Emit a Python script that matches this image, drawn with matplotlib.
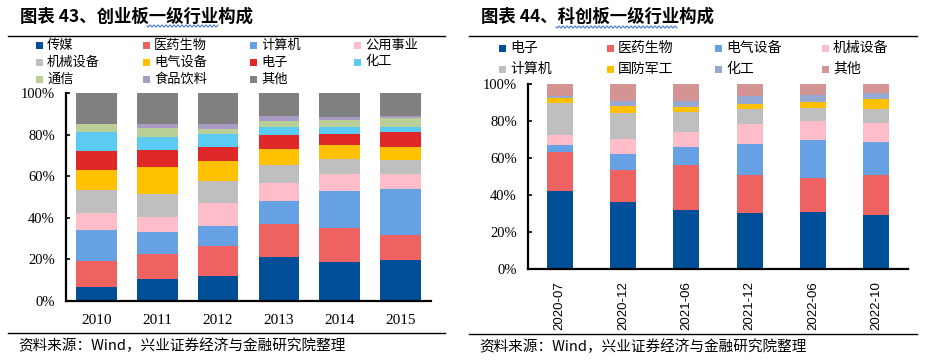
import numpy as np
import matplotlib
matplotlib.use("Agg")
import matplotlib.pyplot as plt
from matplotlib.patches import Rectangle
from matplotlib.lines import Line2D

# ---------------- data ----------------
left_years = ["2010", "2011", "2012", "2013", "2014", "2015"]
left_names = ["传媒", "医药生物", "计算机", "公用事业", "机械设备", "电气设备",
              "电子", "化工", "通信", "食品饮料", "其他"]
chuanmei   = [6.7, 10.6, 12.0, 21.2, 18.8, 19.7]
yiyao_l    = [12.5, 12.2, 14.6, 15.8, 16.5, 12.0]
jisuanji_l = [14.9, 10.4, 9.5, 11.1, 17.6, 22.1]
gongyong   = [8.2, 7.2, 11.0, 8.6, 8.2, 7.3]
jixie_l    = [11.2, 11.2, 10.6, 8.7, 7.2, 6.7]
dianqi_l   = [9.5, 12.8, 9.6, 7.7, 6.7, 6.2]
dianzi_l   = [9.1, 8.2, 6.7, 6.9, 5.3, 7.3]
huagong_l  = [9.2, 6.2, 6.4, 3.7, 3.4, 2.4]
tongxin    = [4.0, 4.4, 2.1, 2.8, 3.3, 4.3]
shipin     = [0.0, 2.1, 2.8, 2.4, 1.5, 0.9]
qita_l     = [14.7, 14.7, 14.7, 11.1, 11.5, 11.1]
left_series = [chuanmei, yiyao_l, jisuanji_l, gongyong, jixie_l, dianqi_l,
               dianzi_l, huagong_l, tongxin, shipin, qita_l]
left_colors = ["#004F98", "#EF6262", "#66A2E3", "#FFBDC9", "#BFBFBF", "#FFC000",
               "#E02828", "#5BCBF4", "#B9CF97", "#A89CC6", "#808080"]

right_dates = ["2020-07", "2020-12", "2021-06", "2021-12", "2022-06", "2022-10"]
right_names = ["电子", "医药生物", "电气设备", "机械设备", "计算机", "国防军工", "化工", "其他"]
dianzi_r   = [42.1, 36.1, 31.8, 30.1, 30.7, 29.1]
yiyao_r    = [21.3, 17.5, 24.3, 20.6, 18.6, 21.6]
dianqi_r   = [3.6, 8.5, 9.8, 16.8, 20.4, 17.9]
jixie_r    = [5.4, 8.1, 8.1, 10.8, 10.3, 10.3]
jisuanji_r = [17.3, 14.1, 11.0, 8.2, 7.2, 7.6]
guofang    = [2.7, 4.0, 2.5, 2.9, 3.2, 5.4]
huagong_r  = [1.3, 2.5, 3.3, 4.3, 3.8, 3.2]
qita_r     = [6.3, 9.2, 9.2, 6.3, 5.8, 4.9]
right_series = [dianzi_r, yiyao_r, dianqi_r, jixie_r, jisuanji_r, guofang, huagong_r, qita_r]
right_colors = ["#004F98", "#EF6262", "#66A2E3", "#FFBDC9", "#BFBFBF", "#FFC000",
                "#95A9D3", "#D49494"]

yticks = [0, 20, 40, 60, 80, 100]
ytick_labels = ["0%", "20%", "40%", "60%", "80%", "100%"]

# ---------------- figure ----------------
W, H = 928, 363
fig = plt.figure(figsize=(W / 100, H / 100), dpi=100)
CJK = ["Noto Sans CJK SC", "DejaVu Sans"]
SERIF = ["Liberation Serif", "DejaVu Serif"]


def px_axes(x0, y0, x1, y1):
    return fig.add_axes([x0 / W, 1 - y1 / H, (x1 - x0) / W, (y1 - y0) / H])


def hline(x0, x1, y, lw=1.0, color="black"):
    fig.add_artist(Line2D([x0 / W, x1 / W], [1 - y / H, 1 - y / H],
                          transform=fig.transFigure, color=color, lw=lw))


def wavy(x0, x1, y):
    xs = np.linspace(x0, x1, 200)
    ys = y + 1.0 * np.sin((xs - x0) / 4.0 * 2 * np.pi)
    fig.add_artist(Line2D(xs / W, 1 - ys / H, transform=fig.transFigure,
                          color="#4A7BD0", lw=0.8))


def legend_item(x, y, color, label, size):
    s = 7
    fig.add_artist(Rectangle((x / W, 1 - (y + s / 2) / H), s / W, s / H,
                             transform=fig.transFigure, color=color, lw=0))
    fig.text((x + 11) / W, 1 - y / H, label, family=CJK, fontsize=size,
             va="center", ha="left")


def style_axes(ax):
    for sp in ["top", "right"]:
        ax.spines[sp].set_visible(False)
    for sp in ["left", "bottom"]:
        ax.spines[sp].set_linewidth(1.6)
    ax.set_ylim(0, 100)
    ax.set_yticks(yticks)
    ax.set_yticklabels(ytick_labels, family=SERIF, fontsize=10.5)
    ax.tick_params(axis="y", direction="in", length=3, width=1.2, pad=8)
    ax.tick_params(axis="x", length=0)


# ---------- left panel ----------
fig.text(20 / W, 1 - 17 / H, "图表 43、创业板一级行业构成", family=CJK,
         fontsize=12.5, fontweight="bold", va="center", ha="left")
wavy(147, 218, 26)
hline(8, 445, 36)
hline(8, 445, 333)
fig.text(18 / W, 1 - 346 / H, "资料来源：Wind，兴业证券经济与金融研究院整理",
         family=CJK, fontsize=10.5, va="center", ha="left")

axL = px_axes(66, 93, 431, 301)
xL = np.arange(len(left_years))
bottom = np.zeros(len(left_years))
for vals, col, name in zip(left_series, left_colors, left_names):
    axL.bar(xL, vals, 0.67, bottom=bottom, color=col, lw=0, label=name)
    bottom += np.array(vals)
axL.set_xlim(-0.5, len(left_years) - 0.5)
style_axes(axL)
axL.set_xticks(xL)
axL.set_xticklabels(left_years, family=SERIF, fontsize=11)
axL.tick_params(axis="x", pad=9)

lcols = [36, 143, 250, 354]
lrows = [45, 62, 79]
for i, (name, col) in enumerate(zip(left_names, left_colors)):
    legend_item(lcols[i % 4], lrows[i // 4], col, name, 9.5)

# ---------- right panel ----------
fig.text(481 / W, 1 - 17 / H, "图表 44、科创板一级行业构成", family=CJK,
         fontsize=12.5, fontweight="bold", va="center", ha="left")
wavy(556, 677, 27)
hline(469, 917, 36)
hline(469, 917, 334)
fig.text(479 / W, 1 - 347 / H, "资料来源：Wind，兴业证券经济与金融研究院整理",
         family=CJK, fontsize=10.5, va="center", ha="left")

axR = px_axes(528, 84, 908, 268.7)
xR = np.arange(len(right_dates))
bottom = np.zeros(len(right_dates))
for vals, col, name in zip(right_series, right_colors, right_names):
    axR.bar(xR, vals, 0.41, bottom=bottom, color=col, lw=0, label=name)
    bottom += np.array(vals)
axR.set_xlim(-0.5, len(right_dates) - 0.5)
style_axes(axR)
axR.set_xticks(xR)
axR.set_xticklabels(right_dates, family=["Liberation Sans", "DejaVu Sans"],
                    fontsize=9.5, rotation=90)
axR.tick_params(axis="x", pad=9)

rcols = [499, 607, 715, 822]
rrows = [48, 69]
for i, (name, col) in enumerate(zip(right_names, right_colors)):
    legend_item(rcols[i % 4], rrows[i // 4], col, name, 10)

fig.savefig("out.png", dpi=100)
